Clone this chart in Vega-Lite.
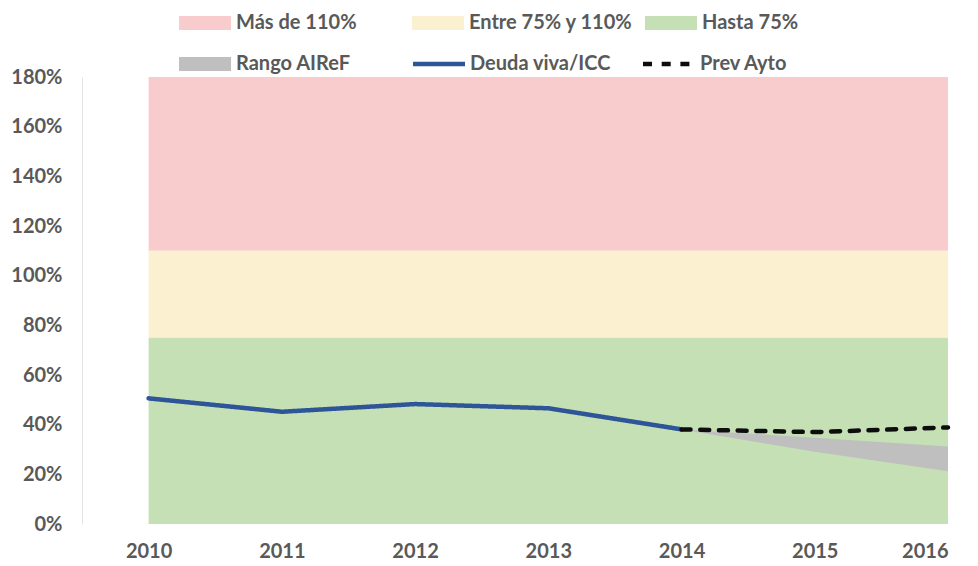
{
  "$schema": "https://vega.github.io/schema/vega-lite/v6.json",
  "width": 866,
  "height": 447,
  "autosize": {"type": "none"},
  "padding": {"left": 82, "top": 77, "right": 30, "bottom": 42},
  "background": "white",
  "config": {
    "view": {"stroke": null},
    "font": "Lato",
    "axisX": {"domain": false, "ticks": false, "grid": false, "labelFont": "Lato", "labelFontSize": 20, "labelFontWeight": "bold", "labelColor": "#595959", "labelPadding": 17, "labelBaseline": "top", "title": null},
    "axisY": {"domain": true, "domainColor": "#e3e3e3", "domainWidth": 1, "ticks": false, "grid": false, "labelFont": "Lato", "labelFontSize": 20, "labelFontWeight": "bold", "labelColor": "#595959", "labelPadding": 20, "title": null},
    "legend": {"labelFont": "Lato", "labelFontSize": 20, "labelFontWeight": "bold", "labelColor": "#595959", "labelLimit": 300, "symbolSize": 196, "symbolOpacity": 1}
  },
  "datasets": {
    "bands": [
      {"serie": "Más de 110%", "x0": 2010, "x1": 2016, "lo": 1.1, "hi": 1.8},
      {"serie": "Entre 75% y 110%", "x0": 2010, "x1": 2016, "lo": 0.75, "hi": 1.1},
      {"serie": "Hasta 75%", "x0": 2010, "x1": 2016, "lo": 0.0, "hi": 0.75}
    ],
    "rango": [
      {"serie": "Rango AIReF", "year": 2014, "lo": 0.381, "hi": 0.381},
      {"serie": "Rango AIReF", "year": 2015, "lo": 0.291, "hi": 0.347},
      {"serie": "Rango AIReF", "year": 2016, "lo": 0.212, "hi": 0.312}
    ],
    "lineas": [
      {"serie": "Deuda viva/ICC", "year": 2010, "v": 0.506},
      {"serie": "Deuda viva/ICC", "year": 2011, "v": 0.452},
      {"serie": "Deuda viva/ICC", "year": 2012, "v": 0.483},
      {"serie": "Deuda viva/ICC", "year": 2013, "v": 0.466},
      {"serie": "Deuda viva/ICC", "year": 2014, "v": 0.381},
      {"serie": "Prev Ayto", "year": 2014, "v": 0.381},
      {"serie": "Prev Ayto", "year": 2015, "v": 0.370},
      {"serie": "Prev Ayto", "year": 2016, "v": 0.389}
    ]
  },
  "layer": [
    {
      "data": {"name": "bands"},
      "mark": {"type": "rect", "opacity": 1},
      "encoding": {
        "x": {"field": "x0", "type": "quantitative", "scale": {"domain": [2009.5, 2016], "nice": false, "zero": false}, "axis": {"values": [2010, 2011, 2012, 2013, 2014, 2015, 2016], "format": "d"}},
        "x2": {"field": "x1"},
        "y": {"field": "lo", "type": "quantitative", "scale": {"domain": [0, 1.8], "nice": false}, "axis": {"values": [0, 0.2, 0.4, 0.6, 0.8, 1.0, 1.2, 1.4, 1.6, 1.8], "format": ".0%"}},
        "y2": {"field": "hi"},
        "fill": {
          "field": "serie", "type": "nominal",
          "scale": {"domain": ["Más de 110%", "Entre 75% y 110%", "Hasta 75%", "Rango AIReF"], "range": ["#F8CBCC", "#FBF0CF", "#C5E0B4", "#BFBFBF"]},
          "legend": {
            "title": null, "orient": "none", "legendX": 94, "legendY": -64, "direction": "horizontal", "columns": 3, "gridAlign": "all", "columnPadding": 9, "rowPadding": 21,
            "labelOffset": 40, "symbolType": "M-1,-1H6.4286V1H-1Z", "symbolStrokeWidth": 0
          }
        }
      }
    },
    {
      "data": {"name": "rango"},
      "mark": {"type": "area", "opacity": 1},
      "encoding": {
        "x": {"field": "year", "type": "quantitative"},
        "y": {"field": "lo", "type": "quantitative"},
        "y2": {"field": "hi"},
        "fill": {"field": "serie", "type": "nominal"}
      }
    },
    {
      "data": {"name": "lineas"},
      "mark": {"type": "line", "strokeWidth": 4.5, "strokeCap": "round", "strokeJoin": "round"},
      "encoding": {
        "x": {"field": "year", "type": "quantitative"},
        "y": {"field": "v", "type": "quantitative"},
        "stroke": {
          "field": "serie", "type": "nominal",
          "scale": {"domain": ["Deuda viva/ICC", "Prev Ayto"], "range": ["#2E5597", "#0D0D0D"]},
          "legend": {
            "title": null, "orient": "none", "legendX": 328, "legendY": -23, "direction": "horizontal", "columns": 2, "gridAlign": "all", "columnPadding": 23,
            "labelOffset": 40, "symbolType": "M-1,0H6.4286", "symbolStrokeWidth": 4.5
          }
        },
        "strokeDash": {
          "field": "serie", "type": "nominal",
          "scale": {"domain": ["Deuda viva/ICC", "Prev Ayto"], "range": [[1, 0], [9, 9.7]]},
          "legend": {
            "title": null, "orient": "none", "legendX": 328, "legendY": -23, "direction": "horizontal", "columns": 2, "gridAlign": "all", "columnPadding": 23,
            "labelOffset": 40, "symbolType": "M-1,0H6.4286", "symbolStrokeWidth": 4.5
          }
        }
      }
    }
  ]
}
